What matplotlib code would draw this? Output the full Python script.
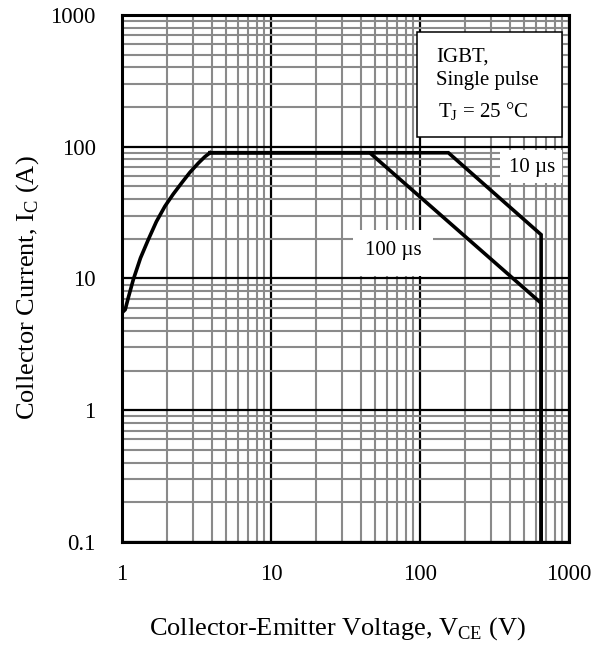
import matplotlib
matplotlib.use("Agg")
import matplotlib.pyplot as plt
import numpy as np
from matplotlib.ticker import LogLocator, FixedLocator, NullFormatter
from matplotlib.patches import Rectangle

plt.rcParams['font.family'] = ['Liberation Serif', 'DejaVu Serif']
plt.rcParams['mathtext.fontset'] = 'custom'
plt.rcParams['mathtext.rm'] = 'Liberation Serif'

# Common rising edge (both curves)
rise_v = [1.0, 1.05, 1.1, 1.19, 1.33, 1.5, 1.7, 1.94, 2.2, 2.51, 2.85, 3.25, 3.6, 3.9]
rise_i = [5.5, 5.8, 7.1, 9.8, 14.3, 19.7, 27.0, 35.3, 43.5, 53.0, 63.7, 75.0, 84.0, 90.0]

# 100 us curve
v100 = [3.9, 46, 650, 650]
i100 = [90, 90, 6.5, 0.1]

# 10 us curve
v10 = [3.9, 155, 650, 650]
i10 = [90, 90, 21.5, 0.1]

xticks = [1, 10, 100, 1000]
yticks = [0.1, 1, 10, 100, 1000]
xticklabels = ['1', '10', '100', '1000']
yticklabels = ['0.1', '1', '10', '100', '1000']

fig = plt.figure(figsize=(6.05, 6.48), dpi=100)
ax = fig.add_axes([0.2017, 0.1636, 0.7388, 0.8133])
ax.set_xscale('log')
ax.set_yscale('log')
ax.set_xlim(1, 1000)
ax.set_ylim(0.1, 1000)

ax.xaxis.set_major_locator(FixedLocator(xticks))
ax.yaxis.set_major_locator(FixedLocator(yticks))
ax.xaxis.set_minor_locator(LogLocator(base=10, subs=np.arange(2, 10)))
ax.yaxis.set_minor_locator(LogLocator(base=10, subs=np.arange(2, 10)))
ax.xaxis.set_minor_formatter(NullFormatter())
ax.yaxis.set_minor_formatter(NullFormatter())
ax.set_xticklabels(xticklabels)
ax.set_yticklabels(yticklabels)
ax.tick_params(which='both', length=0, labelsize=16.5)
ax.tick_params(axis='x', pad=16)
ax.tick_params(axis='y', pad=19)

ax.grid(which='minor', color='#8a8a8a', linewidth=1.5)
ax.grid(which='major', color='black', linewidth=1.6)
ax.set_axisbelow(True)
for s in ax.spines.values():
    s.set_linewidth(2.2)
    s.set_color('black')
    s.set_zorder(5)

lw = 2.6
ax.plot(rise_v, rise_i, color='black', linewidth=lw, solid_joinstyle='round', zorder=4)
ax.plot(v100, i100, color='black', linewidth=lw, solid_joinstyle='miter', zorder=4)
ax.plot(v10, i10, color='black', linewidth=lw, solid_joinstyle='miter', zorder=4)

# curve labels with white backgrounds
ax.add_patch(Rectangle((344, 53.4), 897 - 344, 94.9 - 53.4, facecolor='white',
                       edgecolor='none', zorder=3))
ax.text(565, 69.3, '10 \u00b5s', fontsize=15, ha='center', va='center', zorder=6)
ax.add_patch(Rectangle((35.5, 10.4), 122 - 35.5, 23.5 - 10.4, facecolor='white',
                       edgecolor='none', zorder=3))
ax.text(66, 16.3, '100 \u00b5s', fontsize=15, ha='center', va='center', zorder=6)

# Annotation box
rect = Rectangle((0.66, 0.768), 0.324, 0.2, transform=ax.transAxes,
                 facecolor='white', edgecolor='black', linewidth=1.1, zorder=6)
ax.add_patch(rect)
ax.text(0.703, 0.911, 'IGBT,', transform=ax.transAxes, fontsize=15,
        va='baseline', ha='left', zorder=7)
ax.text(0.703, 0.867, 'Single pulse', transform=ax.transAxes, fontsize=15,
        va='baseline', ha='left', zorder=7)
ax.text(0.707, 0.805, 'T$_\\mathregular{J}$ = 25 \u00b0C', transform=ax.transAxes,
        fontsize=15, va='baseline', ha='left', zorder=7)

ax.set_xlabel('Collector-Emitter Voltage, V$_\\mathregular{CE}$ (V)', fontsize=19, va='center')
ax.xaxis.set_label_coords(0.482, -0.165)
ax.set_ylabel('Collector Current, I$_\\mathregular{C}$ (A)', fontsize=19, va='center', ha='center')
ax.yaxis.set_label_coords(-0.211, 0.483)

fig.savefig('out.png', dpi=100)
